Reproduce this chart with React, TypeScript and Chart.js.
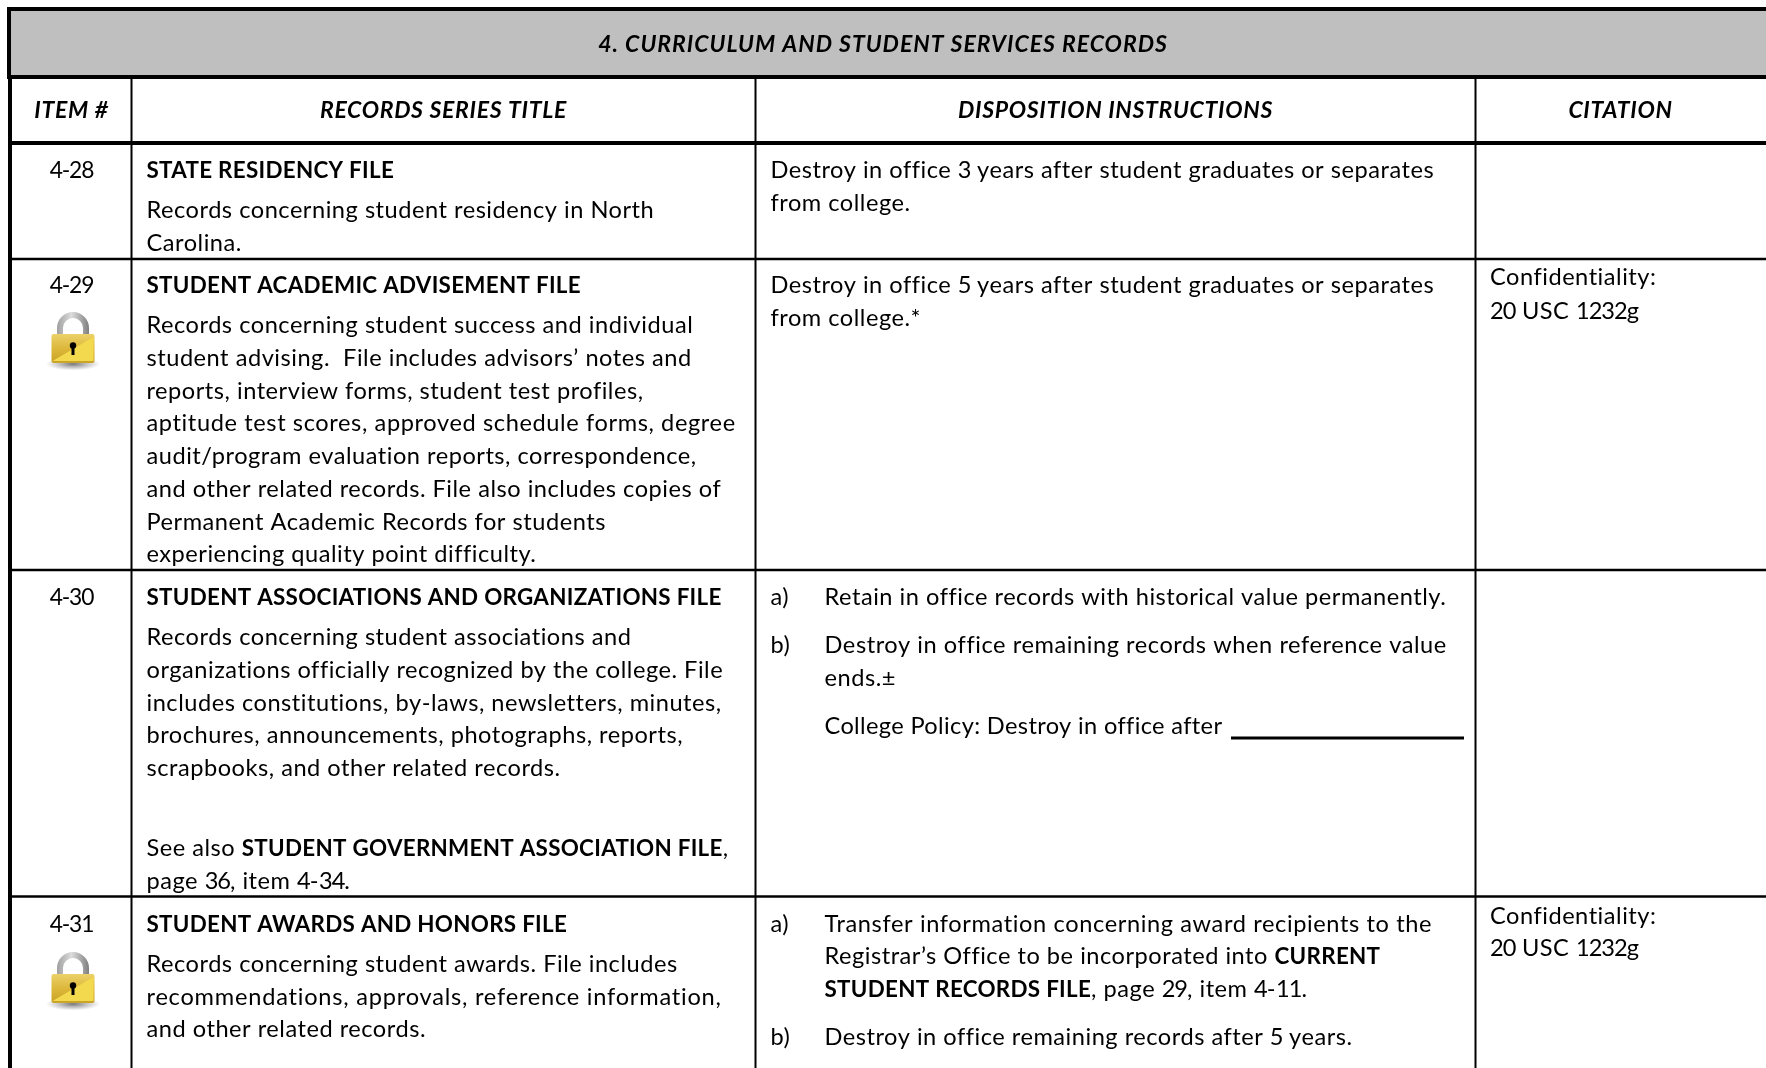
import React, { useEffect, useRef } from "react";
import { Chart, registerables } from "chart.js";

Chart.register(...registerables);

const W = 1766;
const H = 1068;
const FONT = "Lato";
const SIZE = 23.6;
const BOLD_SIZE = 22.4;
const HEAD_SIZE = 23;
const ITEM_SIZE = 22.8;

// Rules of the table, in axis units
const columnEdges = [131.5, 755.5, 1475.5];
const thickRows = [77, 143];
const thinRows = [259, 570, 896.5];
const headerBand = [11, 75];

const sectionTitle = "4. CURRICULUM AND STUDENT SERVICES RECORDS";
const columnTitles = ["ITEM #", "RECORDS SERIES TITLE", "DISPOSITION INSTRUCTIONS", "CITATION"];

const itemNumbers: [string, number][] = [
  ["4-28", 178],
  ["4-29", 293],
  ["4-30", 605],
  ["4-31", 932],
];
const lockTops = [312, 952];

type Line = [string, number];
const titleColumn: Line[] = [
  ["**STATE RESIDENCY FILE**", 178],
  ["Records concerning student residency in North", 218],
  ["Carolina.", 251],
  ["**STUDENT ACADEMIC ADVISEMENT FILE**", 293],
  ["Records concerning student success and individual", 333],
  ["student advising.  File includes advisors’ notes and", 366],
  ["reports, interview forms, student test profiles,", 398.5],
  ["aptitude test scores, approved schedule forms, degree", 431],
  ["audit/program evaluation reports, correspondence,", 464],
  ["and other related records. File also includes copies of", 497],
  ["Permanent Academic Records for students", 529.5],
  ["experiencing quality point difficulty.", 562],
  ["**STUDENT ASSOCIATIONS AND ORGANIZATIONS FILE**", 605],
  ["Records concerning student associations and", 645],
  ["organizations officially recognized by the college. File", 678],
  ["includes constitutions, by-laws, newsletters, minutes,", 710.5],
  ["brochures, announcements, photographs, reports,", 743],
  ["scrapbooks, and other related records.", 776],
  ["See also **STUDENT GOVERNMENT ASSOCIATION FILE**,", 856],
  ["page 36, item 4-34.", 889],
  ["**STUDENT AWARDS AND HONORS FILE**", 932],
  ["Records concerning student awards. File includes", 972],
  ["recommendations, approvals, reference information,", 1005],
  ["and other related records.", 1037],
];
const dispositionColumn: Line[] = [
  ["Destroy in office 3 years after student graduates or separates", 178],
  ["from college.", 211],
  ["Destroy in office 5 years after student graduates or separates", 293],
  ["from college.*", 326],
  ["a)", 605],
  ["b)", 653],
  ["a)", 932],
  ["b)", 1045],
];
const dispositionList: Line[] = [
  ["Retain in office records with historical value permanently.", 605],
  ["Destroy in office remaining records when reference value", 653],
  ["ends.±", 686],
  ["College Policy: Destroy in office after", 734],
  ["Transfer information concerning award recipients to the", 932],
  ["Registrar’s Office to be incorporated into **CURRENT**", 964],
  ["**STUDENT RECORDS FILE**, page 29, item 4-11.", 997],
  ["Destroy in office remaining records after 5 years.", 1045],
];
const citationColumn: Line[] = [
  ["Confidentiality:", 285],
  ["20 USC 1232g", 319],
  ["Confidentiality:", 924],
  ["20 USC 1232g", 956],
];

// Lines whose glyph widths differ most between the installed face and the original one
const spacingTweaks: Record<string, number> = {
  "recommendations, approvals, reference information,": 0.26,
  "aptitude test scores, approved schedule forms, degree": 0.09,
  "College Policy: Destroy in office after": -0.16,
  "Transfer information concerning award recipients to the": 0.1,
  "Destroy in office remaining records when reference value": 0.05,
};

const seg = (x0: number, y0: number, x1: number, y1: number, width: number) => ({
  data: [{ x: x0, y: y0 }, { x: x1, y: y1 }],
  showLine: true,
  pointRadius: 0,
  borderColor: "#000",
  backgroundColor: "#000",
  borderWidth: width,
});

const tablePlugin = {
  id: "tableText",
  beforeDatasetsDraw(chart: any) {
    const { ctx, scales } = chart;
    const X = (v: number) => scales.x.getPixelForValue(v);
    const Y = (v: number) => scales.y.getPixelForValue(v);
    ctx.save();
    ctx.fillStyle = "#bfbfbf";
    ctx.fillRect(X(9), Y(headerBand[0]), X(W) - X(9), Y(headerBand[1]) - Y(headerBand[0]));
    ctx.restore();
  },
  afterDatasetsDraw(chart: any) {
    const { ctx, scales } = chart;
    const X = (v: number) => scales.x.getPixelForValue(v);
    const Y = (v: number) => scales.y.getPixelForValue(v);
    ctx.save();
    ctx.fillStyle = "#000";
    ctx.textBaseline = "alphabetic";
    ctx.textAlign = "left";

    const rich = (text: string, x: number, y: number) => {
      let cx = x;
      const tweak = spacingTweaks[text] ?? 0;
      text.split("**").forEach((part, i) => {
        if (!part) return;
        const bold = i % 2 === 1;
        ctx.font = `${bold ? "bold " : ""}${bold ? BOLD_SIZE : SIZE}px ${FONT}`;
        part.split(/(\d+)/).forEach((run, j) => {
          if (!run) return;
          ctx.letterSpacing = j % 2 ? "-1px" : `${(bold ? 0.29 : 0.52) + tweak}px`;
          ctx.fillText(run, cx, y);
          cx += ctx.measureText(run).width;
        });
      });
      ctx.letterSpacing = "0px";
    };
    const colX = [146.5, 770.5, 824.5, 1490];
    titleColumn.forEach(([t, y]) => rich(t, X(colX[0]), Y(y)));
    dispositionColumn.forEach(([t, y]) => rich(t, X(colX[1]), Y(y)));
    dispositionList.forEach(([t, y]) => rich(t, X(colX[2]), Y(y)));
    citationColumn.forEach(([t, y]) => rich(t, X(colX[3]), Y(y)));

    ctx.textAlign = "center";
    ctx.font = `${ITEM_SIZE}px ${FONT}`;
    ctx.letterSpacing = "-1.2px";
    itemNumbers.forEach(([t, y]) => ctx.fillText(t, X(71.5), Y(y)));

    ctx.font = `italic bold ${HEAD_SIZE}px ${FONT}`;
    ctx.letterSpacing = "1px";
    ctx.fillText(sectionTitle, X(883), Y(52));
    ctx.letterSpacing = "0.7px";
    const centers = [71.5, 443.5, 1115.5, 1620.5];
    columnTitles.forEach((t, i) => ctx.fillText(t, X(centers[i]), Y(118)));
    ctx.letterSpacing = "0px";

    // Locks
    lockTops.forEach((top) => {
      const cx = X(73);
      const t = Y(top);
      const sh = ctx.createRadialGradient(cx, t + 52, 2, cx, t + 52, 27);
      sh.addColorStop(0, "rgba(90,90,90,0.75)");
      sh.addColorStop(1, "rgba(120,120,120,0)");
      ctx.save();
      ctx.translate(cx, t + 52);
      ctx.scale(1, 0.24);
      ctx.translate(-cx, -(t + 52));
      ctx.fillStyle = sh;
      ctx.fillRect(cx - 28, t + 24, 56, 56);
      ctx.restore();

      const arc = ctx.createLinearGradient(cx - 16, 0, cx + 16, 0);
      arc.addColorStop(0, "#9f9f9f");
      arc.addColorStop(0.45, "#dcdcdc");
      arc.addColorStop(1, "#7f7f7f");
      ctx.strokeStyle = arc;
      ctx.lineWidth = 6;
      ctx.beginPath();
      ctx.moveTo(cx - 13, t + 26);
      ctx.lineTo(cx - 13, t + 16);
      ctx.arc(cx, t + 16, 13, Math.PI, 0);
      ctx.lineTo(cx + 13, t + 26);
      ctx.stroke();

      const body = ctx.createLinearGradient(0, t + 22, 0, t + 51);
      body.addColorStop(0, "#ecd26a");
      body.addColorStop(0.5, "#dcb73a");
      body.addColorStop(1, "#c9a226");
      ctx.fillStyle = body;
      ctx.beginPath();
      ctx.roundRect(cx - 21.5, t + 22, 43, 29, 2);
      ctx.fill();
      ctx.fillStyle = "#f3d94e";
      ctx.beginPath();
      ctx.moveTo(cx + 20.5, t + 25);
      ctx.lineTo(cx + 20.5, t + 49);
      ctx.lineTo(cx - 20.5, t + 49);
      ctx.closePath();
      ctx.fill();
      ctx.fillStyle = "#000";
      ctx.beginPath();
      ctx.arc(cx, t + 33.5, 3.2, 0, 2 * Math.PI);
      ctx.fill();
      ctx.fillRect(cx - 1.5, t + 34, 3, 9);
    });
    ctx.restore();
  },
};

export default function App() {
  const ref = useRef<HTMLCanvasElement>(null);
  useEffect(() => {
    document.body.style.margin = "0";
    const datasets = [
      seg(9, 9, W, 9, 4),
      seg(9, 7, 9, 79, 4),
      seg(10, 79, 10, H, 4),
      ...thickRows.map((y) => seg(9, y, W, y, 4)),
      ...thinRows.map((y) => seg(10, y, W, y, 2.4)),
      seg(columnEdges[0], 79, columnEdges[0], H, 2),
      seg(columnEdges[1], 79, columnEdges[1], H, 2),
      seg(columnEdges[2], 79, columnEdges[2], H, 2),
      seg(1231, 738, 1464, 738, 2.8),
    ];
    const chart = new Chart(ref.current!, {
      type: "scatter",
      data: { datasets },
      options: {
        animation: false,
        responsive: false,
        layout: { padding: 0 },
        plugins: { legend: { display: false }, tooltip: { enabled: false } },
        scales: {
          x: { type: "linear", min: 0, max: W, display: false },
          y: { type: "linear", min: 0, max: H, reverse: true, display: false },
        },
      },
      plugins: [tablePlugin],
    } as any);
    return () => chart.destroy();
  }, []);
  return <canvas ref={ref} width={W} height={H} style={{ display: "block", background: "#fff" }} />;
}
